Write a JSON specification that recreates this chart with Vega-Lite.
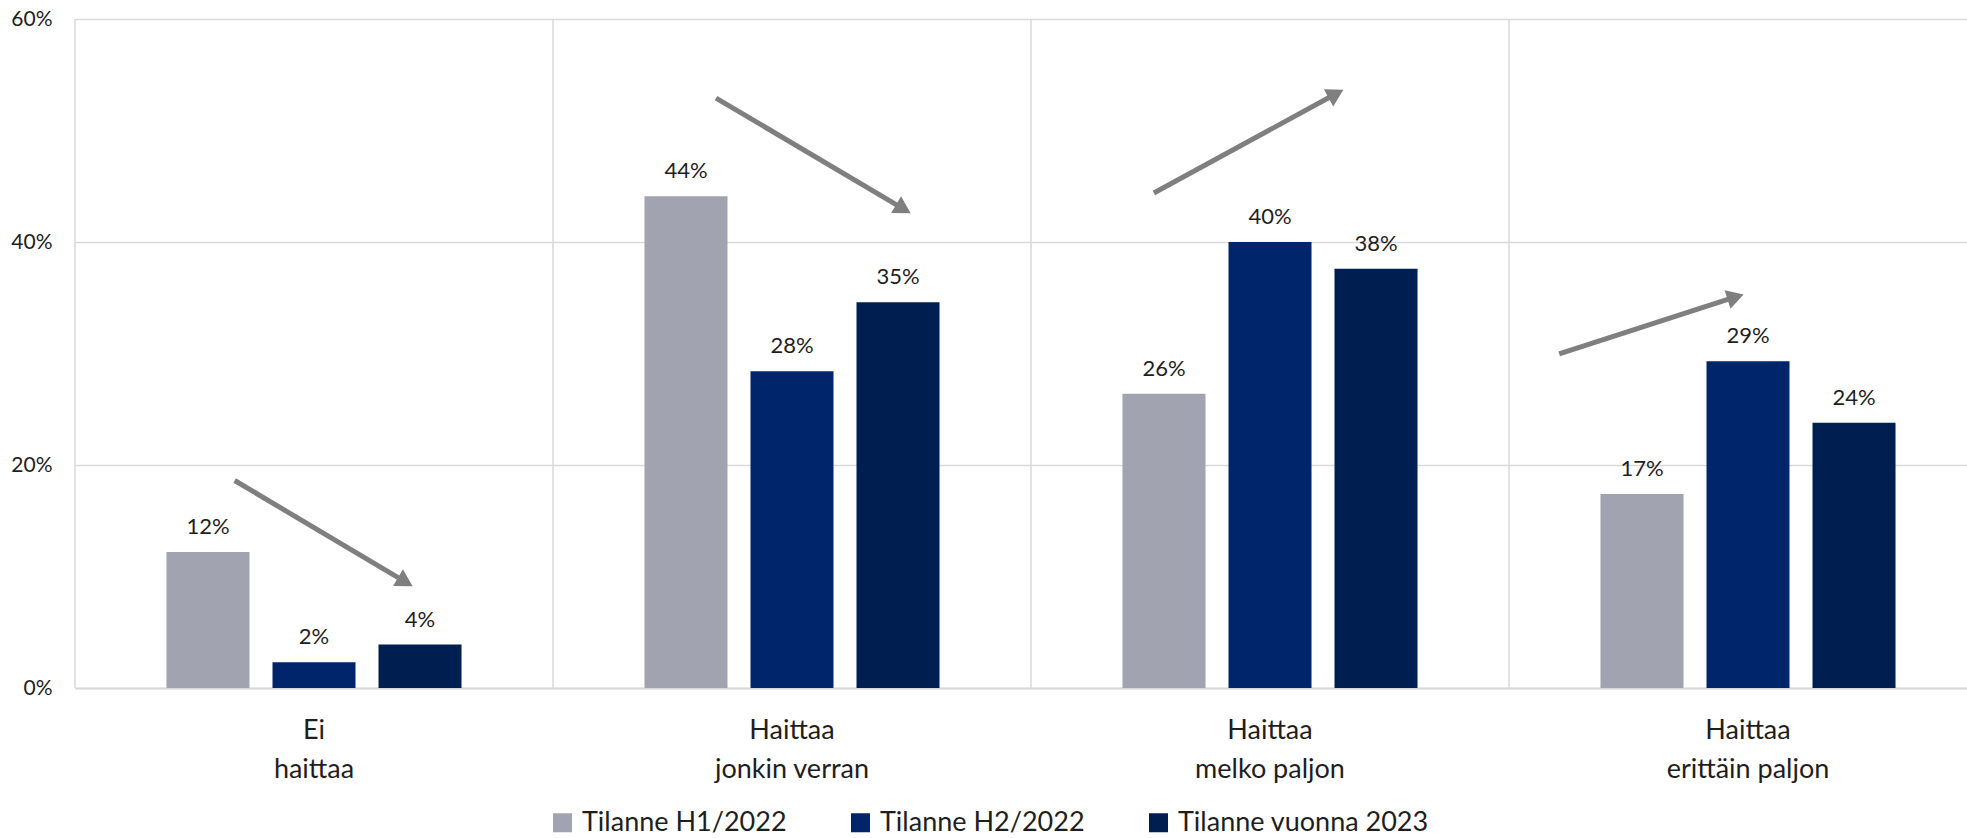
{
  "$schema": "https://vega.github.io/schema/vega-lite/v6.json",
  "width": 1892,
  "height": 669,
  "autosize": {"type": "none"},
  "padding": {"left": 75, "top": 19, "right": 0, "bottom": 150},
  "background": "white",
  "config": {
    "font": "Lato",
    "view": {"stroke": null},
    "axis": {"labelFont": "Lato", "titleFont": "Lato"},
    "legend": {"labelFont": "Lato"}
  },
  "datasets": {
    "bars": [
      {"cat": "Ei haittaa", "series": "Tilanne H1/2022", "value": 0.122},
      {"cat": "Ei haittaa", "series": "Tilanne H2/2022", "value": 0.023},
      {"cat": "Ei haittaa", "series": "Tilanne vuonna 2023", "value": 0.039},
      {"cat": "Haittaa jonkin verran", "series": "Tilanne H1/2022", "value": 0.441},
      {"cat": "Haittaa jonkin verran", "series": "Tilanne H2/2022", "value": 0.284},
      {"cat": "Haittaa jonkin verran", "series": "Tilanne vuonna 2023", "value": 0.346},
      {"cat": "Haittaa melko paljon", "series": "Tilanne H1/2022", "value": 0.264},
      {"cat": "Haittaa melko paljon", "series": "Tilanne H2/2022", "value": 0.400},
      {"cat": "Haittaa melko paljon", "series": "Tilanne vuonna 2023", "value": 0.376},
      {"cat": "Haittaa erittäin paljon", "series": "Tilanne H1/2022", "value": 0.174},
      {"cat": "Haittaa erittäin paljon", "series": "Tilanne H2/2022", "value": 0.293},
      {"cat": "Haittaa erittäin paljon", "series": "Tilanne vuonna 2023", "value": 0.238}
    ],
    "cats": [
      {"cat": "Ei haittaa"},
      {"cat": "Haittaa jonkin verran"},
      {"cat": "Haittaa melko paljon"},
      {"cat": "Haittaa erittäin paljon"}
    ],
    "arrows": [
      {"x": 0.334, "y": 0.1861, "x2": 0.691, "y2": 0.0952, "angle": 30.5},
      {"x": 1.341, "y": 0.5291, "x2": 1.733, "y2": 0.4297, "angle": 30.6},
      {"x": 2.257, "y": 0.4439, "x2": 2.638, "y2": 0.5329, "angle": -28.6},
      {"x": 3.105, "y": 0.2996, "x2": 3.474, "y2": 0.3507, "angle": -17.6}
    ]
  },
  "layer": [
    {
      "layer": [
        {
          "data": {"name": "bars"},
          "mark": {"type": "bar"},
          "encoding": {
            "x": {
              "field": "cat", "type": "nominal", "sort": null,
              "scale": {"range": [0, 1912], "paddingInner": 0, "paddingOuter": 0},
              "axis": {
                "title": null, "labelAngle": 0, "ticks": false, "grid": false,
                "domain": true, "domainColor": "#d9d9d9", "domainWidth": 2,
                "labelFontSize": 27, "labelLineHeight": 39, "labelPadding": 29,
                "labelColor": "#1e1e1e", "labelOverlap": false, "labelLimit": 0,
                "labelExpr": "split(replace(datum.label, ' ', '|'), '|')"
              }
            },
            "xOffset": {
              "field": "series", "type": "nominal", "sort": null,
              "scale": {"paddingInner": 0.217, "paddingOuter": 0.863}
            },
            "y": {
              "field": "value", "type": "quantitative",
              "scale": {"domain": [0, 0.6], "nice": false},
              "axis": {
                "title": null, "values": [0, 0.2, 0.4, 0.6], "format": ".0%",
                "grid": true, "gridColor": "#d9d9d9", "gridWidth": 1.5,
                "domain": false, "ticks": false, "tickSize": 0,
                "labelFontSize": 21, "labelPadding": 23, "labelColor": "#1e1e1e"
              }
            },
            "color": {
              "field": "series", "type": "nominal", "sort": null,
              "scale": {
                "domain": ["Tilanne H1/2022", "Tilanne H2/2022", "Tilanne vuonna 2023"],
                "range": ["#A1A4B0", "#00256A", "#001F51"]
              },
              "legend": {
                "title": null, "orient": "none", "direction": "horizontal",
                "legendX": 474, "legendY": 790, "padding": 0,
                "symbolType": "square", "symbolSize": 361, "symbolStrokeWidth": 0,
                "labelFontSize": 27, "labelColor": "#1e1e1e", "labelOffset": 6,
                "labelLimit": 0, "columnPadding": 60
              }
            }
          }
        },
        {
          "data": {"name": "cats"},
          "mark": {"type": "rule", "color": "#d9d9d9", "strokeWidth": 1.5},
          "encoding": {
            "x": {"field": "cat", "type": "nominal", "sort": null, "bandPosition": 0}
          }
        },
        {
          "data": {"name": "bars"},
          "mark": {"type": "text", "baseline": "alphabetic", "dy": -18, "fontSize": 22, "color": "#1e1e1e"},
          "encoding": {
            "x": {"field": "cat", "type": "nominal", "sort": null},
            "xOffset": {"field": "series", "type": "nominal", "sort": null},
            "y": {"field": "value", "type": "quantitative", "title": null},
            "text": {"field": "value", "type": "quantitative", "format": ".0%"}
          }
        }
      ]
    },
    {
      "data": {"name": "arrows"},
      "layer": [
        {
          "mark": {"type": "rule", "color": "#7f7f7f", "strokeWidth": 5},
          "encoding": {
            "x": {"field": "x", "type": "quantitative", "scale": {"domain": [0, 4], "range": [0, 1912]}, "axis": null},
            "y": {"field": "y", "type": "quantitative", "title": null},
            "x2": {"field": "x2"},
            "y2": {"field": "y2"}
          }
        },
        {
          "mark": {"type": "point", "shape": "triangle-right", "filled": true, "color": "#7f7f7f", "opacity": 1, "size": 380},
          "encoding": {
            "x": {"field": "x2", "type": "quantitative", "axis": null},
            "y": {"field": "y2", "type": "quantitative", "title": null},
            "angle": {"field": "angle", "type": "quantitative", "scale": null}
          }
        }
      ]
    }
  ],
  "resolve": {"scale": {"x": "independent"}, "axis": {"x": "independent"}}
}
